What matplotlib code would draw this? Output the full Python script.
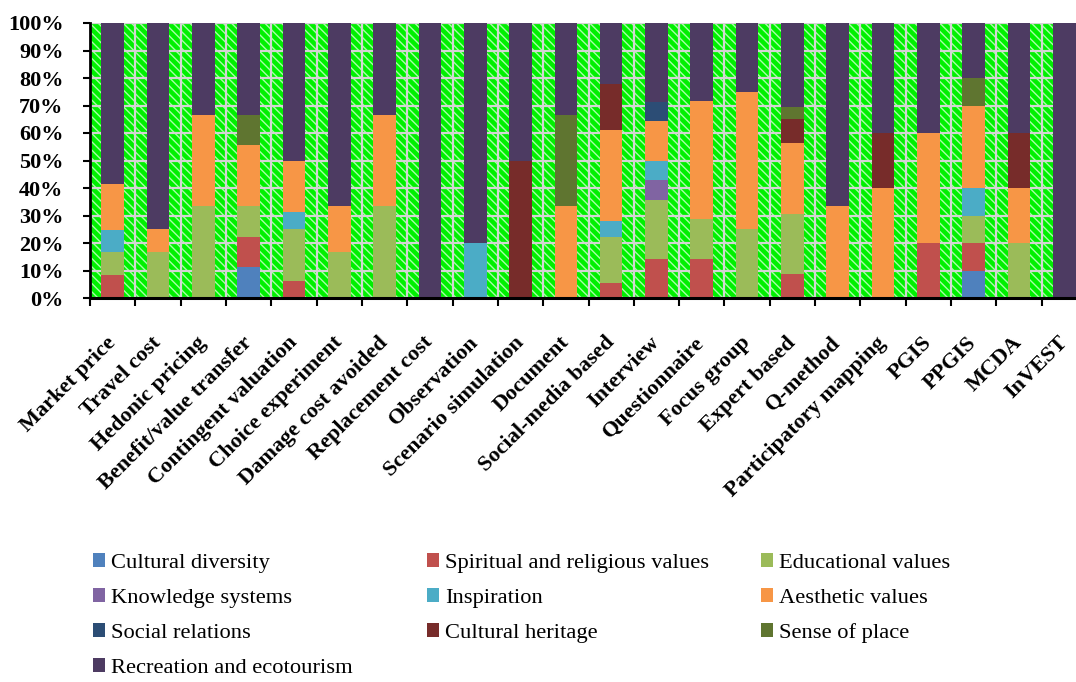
import matplotlib
matplotlib.use("Agg")
import matplotlib.pyplot as plt
from matplotlib.patches import Rectangle, Patch
import numpy as np

categories = ["Market price", "Travel cost", "Hedonic pricing", "Benefit/value transfer",
              "Contingent valuation", "Choice experiment", "Damage cost avoided",
              "Replacement cost", "Observation", "Scenario simulation", "Document",
              "Social-media based", "Interview", "Questionnaire", "Focus group",
              "Expert based", "Q-method", "Participatory mapping", "PGIS", "PPGIS",
              "MCDA", "InVEST"]

# percentages per category (bottom to top stacking order)
cultural_diversity = [0, 0, 0, 11.1, 0, 0, 0, 0, 0, 0, 0, 0, 0, 0, 0, 0, 0, 0, 0, 10, 0, 0]
spiritual_religious = [8.3, 0, 0, 11.1, 6.25, 0, 0, 0, 0, 0, 0, 5.6, 14.3, 14.3, 0, 8.7, 0, 0, 20, 10, 0, 0]
educational = [8.3, 16.7, 33.3, 11.1, 18.75, 16.7, 33.3, 0, 0, 0, 0, 16.7, 21.4, 14.3, 25, 21.7, 0, 0, 0, 10, 20, 0]
knowledge_systems = [0, 0, 0, 0, 0, 0, 0, 0, 0, 0, 0, 0, 7.1, 0, 0, 0, 0, 0, 0, 0, 0, 0]
inspiration = [8.3, 0, 0, 0, 6.25, 0, 0, 0, 20, 0, 0, 5.6, 7.1, 0, 0, 0, 0, 0, 0, 10, 0, 0]
aesthetic = [16.7, 8.3, 33.3, 22.2, 18.75, 16.7, 33.3, 0, 0, 0, 33.3, 33.3, 14.3, 42.9, 50, 26.1, 33.3, 40, 40, 30, 20, 0]
social_relations = [0, 0, 0, 0, 0, 0, 0, 0, 0, 0, 0, 0, 7.1, 0, 0, 0, 0, 0, 0, 0, 0, 0]
cultural_heritage = [0, 0, 0, 0, 0, 0, 0, 0, 0, 50, 0, 16.7, 0, 0, 0, 8.7, 0, 20, 0, 0, 20, 0]
sense_of_place = [0, 0, 0, 11.1, 0, 0, 0, 0, 0, 0, 33.3, 0, 0, 0, 0, 4.3, 0, 0, 0, 10, 0, 0]
recreation = [58.3, 75, 33.3, 33.3, 50, 66.7, 33.3, 100, 80, 50, 33.3, 22.2, 28.6, 28.6, 25, 30.4, 66.7, 40, 40, 20, 40, 100]

series_names = ["Cultural diversity", "Spiritual and religious values", "Educational values",
                "Knowledge systems", "Inspiration", "Aesthetic values", "Social relations",
                "Cultural heritage", "Sense of place", "Recreation and ecotourism"]
series_values = [cultural_diversity, spiritual_religious, educational, knowledge_systems,
                 inspiration, aesthetic, social_relations, cultural_heritage, sense_of_place,
                 recreation]
series_colors = ["#4F81BD", "#C0504D", "#9BBB59", "#8064A2", "#4BACC6", "#F79646",
                 "#2C4D75", "#772C2A", "#5F7530", "#4D3B62"]

y_ticks = list(range(0, 101, 10))
y_ticklabels = [f"{v}%" for v in y_ticks]

plt.rcParams['font.family'] = ['Liberation Serif', 'DejaVu Serif']
plt.rcParams['hatch.linewidth'] = 1.0
plt.rcParams['hatch.color'] = '#a8ffa8'

W, H = 1076, 682
fig = plt.figure(figsize=(W / 100, H / 100), dpi=100)
left_px, top_px, bottom_px, right_px = 90, 23, 298, 1087
ax = fig.add_axes([left_px / W, 1 - bottom_px / H, (right_px - left_px) / W, (bottom_px - top_px) / H])

n = len(categories)
x = np.arange(n)
ax.set_xlim(-0.5, n - 0.5)
ax.set_ylim(0, 100)

# background: bright green with diagonal light stripes
ax.set_facecolor('#00F000')
bg = Rectangle((0, 0), 1, 1, transform=ax.transAxes, facecolor='#00F000',
               edgecolor='#a8ffa8', hatch='\\\\\\\\', linewidth=0, zorder=0.1)
ax.add_patch(bg)

# grid lines
for v in y_ticks:
    ax.axhline(v, color='#d4d4d4', lw=1.6, zorder=0.5)
for b in np.arange(-0.5, n, 0.5):
    ax.axvline(b, color='#d4d4d4', lw=1.6, zorder=0.5)

bottom = np.zeros(n)
for name, vals, col in zip(series_names, series_values, series_colors):
    vals = np.array(vals, dtype=float)
    ax.bar(x, vals, width=0.5, bottom=bottom, color=col, edgecolor='none', zorder=2, label=name)
    bottom += vals

for s in ['top', 'right']:
    ax.spines[s].set_visible(False)
ax.spines['left'].set_linewidth(2)
ax.spines['bottom'].set_linewidth(2.2)
ax.spines['left'].set_zorder(3)
ax.spines['bottom'].set_zorder(3)

ax.set_yticks(y_ticks)
ax.set_yticklabels(y_ticklabels, fontsize=16, fontweight='bold')
ax.tick_params(axis='y', length=5, width=1.5, pad=14, direction='out')

ax.set_xticks(x)
ax.set_xticklabels(categories, fontsize=16, fontweight='bold', rotation=45,
                   ha='right', va='center', rotation_mode='anchor')
ax.tick_params(axis='x', which='major', length=0, pad=30)
ax.set_xticks(np.arange(-0.5, n, 1.0), minor=True)
ax.tick_params(axis='x', which='minor', length=6, width=1.5, direction='out')

# legend in three columns
handles = [Patch(facecolor=c, edgecolor='none') for c in series_colors]
cols = [[0, 3, 6, 9], [1, 4, 7], [2, 5, 8]]
col_x = [93, 427, 761]
for cidx, xpx in zip(cols, col_x):
    fig.legend([handles[i] for i in cidx], [series_names[i] for i in cidx],
               loc='upper left', bbox_to_anchor=(xpx / W, 1 - 553 / H),
               frameon=False, fontsize=16.2, handlelength=0.55, handleheight=0.55,
               handletextpad=0.25, labelspacing=0.68, borderaxespad=0, borderpad=0)

fig.savefig("out.png", dpi=100)
